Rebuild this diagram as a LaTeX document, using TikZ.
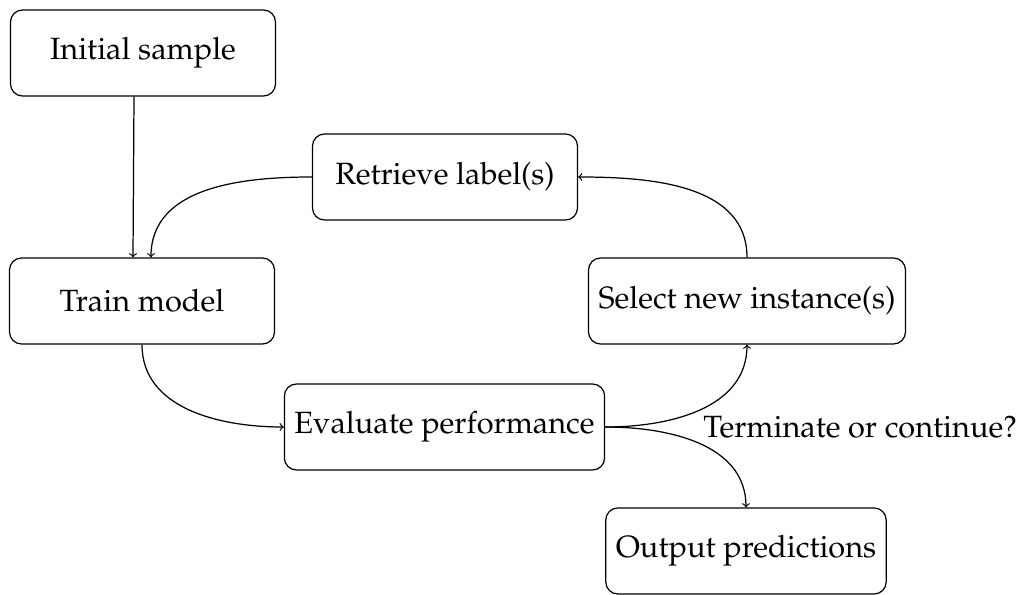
\documentclass[tikz,border=0pt]{standalone}
\usepackage[T1]{fontenc}
\usepackage{mathpazo}
\usepackage{tikz}
\tikzset {etape/.style={draw,rounded corners=0.24cm,minimum width=5.3cm,
    minimum height=1.72cm,inner xsep=0.2cm,font=\fontsize{17.5}{21}\selectfont}}

\begin{document}
\begin{tikzpicture}[>=to,line width=0.7pt]
  \useasboundingbox (0,0) rectangle (20.48,11.88);
  % les etapes
  \node[etape] (init)     at (2.86,10.82) {Initial sample};
  \node[etape] (retrieve) at (8.90,8.34)  {Retrieve label(s)};
  \node[etape] (train)    at (2.84,5.86)  {Train model};
  \node[etape] (select)   at (14.94,5.86) {Select new instance(s)};
  \node[etape] (eval)     at (8.89,3.34)  {Evaluate performance};
  \node[etape] (output)   at (14.92,0.86) {Output predictions};
  \node[anchor=west,font=\fontsize{17.5}{21}\selectfont] (question)
    at (13.94,3.33) {Terminate or continue?};
  % les fleches
  \draw[->] ([xshift=-0.18cm]init.south) -- ([xshift=-0.18cm]train.north);
  \draw[->] (retrieve.west) to[out=180,in=90] ([xshift=0.18cm]train.north);
  \draw[->] (train.south) to[out=-90,in=180] (eval.west);
  \draw[->] (eval.east) to[out=0,in=-90] (select.south);
  \draw[->] (eval.east) to[out=0,in=90] (output.north);
  \draw[->] (select.north) to[out=90,in=0] (retrieve.east);
\end{tikzpicture}
\end{document}
